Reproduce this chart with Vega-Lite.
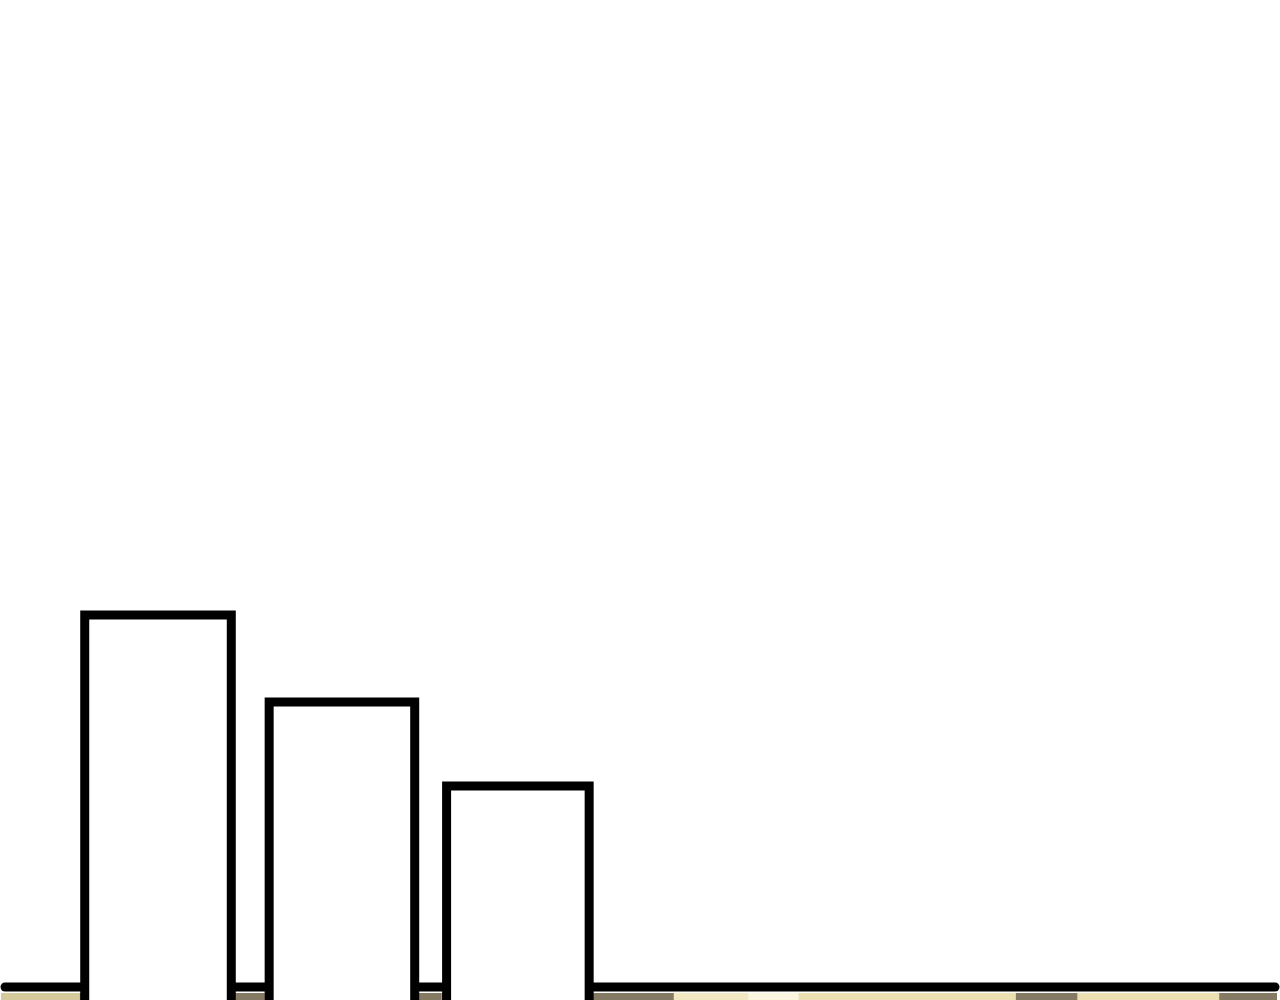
{
  "$schema": "https://vega.github.io/schema/vega-lite/v6.json",
  "width": 1280,
  "height": 1000,
  "autosize": {"type": "fit", "contains": "padding"},
  "padding": 0,
  "background": "white",
  "config": {"view": {"stroke": null}},
  "datasets": {
    "strip": [
      {"from": 0, "to": 79, "low": 0, "high": 7, "tone": "sand"},
      {"from": 79, "to": 264, "low": 0, "high": 7, "tone": "earth"},
      {"from": 264, "to": 442, "low": 0, "high": 7, "tone": "earth"},
      {"from": 442, "to": 675, "low": 0, "high": 7, "tone": "earth"},
      {"from": 675, "to": 750, "low": 0, "high": 7, "tone": "cream"},
      {"from": 750, "to": 800, "low": 0, "high": 7, "tone": "pale"},
      {"from": 800, "to": 1018, "low": 0, "high": 7, "tone": "wheat"},
      {"from": 1018, "to": 1080, "low": 0, "high": 7, "tone": "earth"},
      {"from": 1080, "to": 1222, "low": 0, "high": 7, "tone": "wheat"},
      {"from": 1222, "to": 1280, "low": 0, "high": 7, "tone": "earth"}
    ],
    "base": [
      {"from": 4, "to": 1278, "level": 13}
    ],
    "bars": [
      {"bar": "A", "from": 84, "to": 231, "low": -20, "value": 385},
      {"bar": "B", "from": 269, "to": 415, "low": -20, "value": 298},
      {"bar": "C", "from": 447, "to": 590, "low": -20, "value": 214}
    ]
  },
  "layer": [
    {
      "data": {"name": "strip"},
      "mark": {"type": "rect", "clip": true},
      "encoding": {
        "x": {"field": "from", "type": "quantitative", "scale": {"domain": [0, 1280], "nice": false, "zero": false}, "axis": null},
        "x2": {"field": "to"},
        "y": {"field": "low", "type": "quantitative", "scale": {"domain": [0, 1000], "nice": false}, "axis": null},
        "y2": {"field": "high"},
        "color": {
          "field": "tone",
          "type": "nominal",
          "scale": {
            "domain": ["sand", "earth", "cream", "pale", "wheat"],
            "range": ["#d5ca9c", "#857a63", "#f2e8c2", "#fbf6df", "#ece0b2"]
          },
          "legend": null
        }
      }
    },
    {
      "data": {"name": "base"},
      "mark": {"type": "rule", "color": "black", "strokeWidth": 9, "strokeCap": "round"},
      "encoding": {
        "x": {"field": "from", "type": "quantitative", "axis": null},
        "x2": {"field": "to"},
        "y": {"field": "level", "type": "quantitative", "axis": null}
      }
    },
    {
      "data": {"name": "bars"},
      "mark": {"type": "rect", "fill": "white", "stroke": "black", "strokeWidth": 9, "clip": true},
      "encoding": {
        "x": {"field": "from", "type": "quantitative", "axis": null},
        "x2": {"field": "to"},
        "y": {"field": "low", "type": "quantitative", "axis": null},
        "y2": {"field": "value"}
      }
    }
  ]
}
